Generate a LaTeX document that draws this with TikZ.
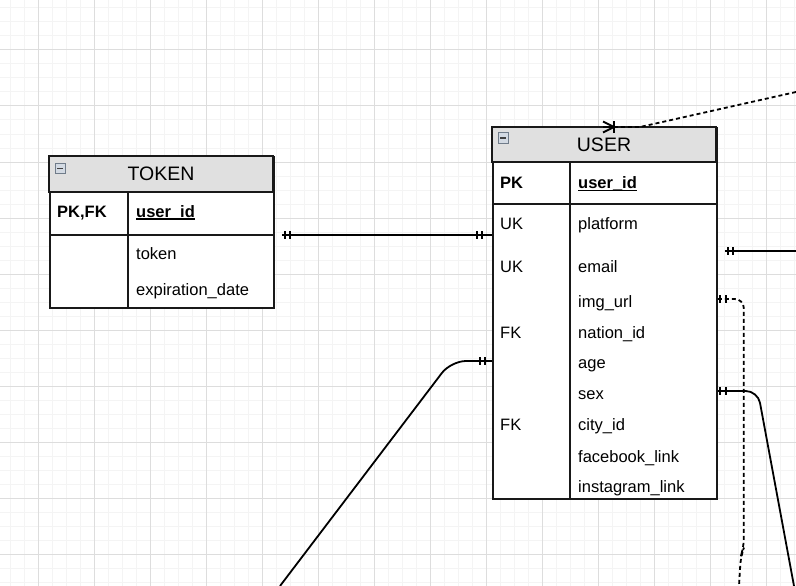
\documentclass[tikz,border=0pt]{standalone}
\usepackage{fontspec}
\setmainfont{Liberation Sans}
\definecolor{gridminor}{HTML}{F4F4F4}
\definecolor{gridmajor}{HTML}{DDDDDD}
\definecolor{headgray}{HTML}{E0E0E0}
\definecolor{iconfill}{HTML}{D3DAE3}
\definecolor{iconline}{HTML}{707C8A}
\begin{document}
\begin{tikzpicture}[x=1pt,y=-1pt,
    tablebox/.style={draw=black!90,line width=1.8pt,fill=white,inner sep=0pt,anchor=north west,minimum width=224pt},
    headbox/.style={fill=headgray,draw=black!90,line width=1.8pt},
    rowline/.style={draw=black!90,line width=1.8pt},
    title/.style={anchor=base,inner sep=0pt,font=\fontsize{19.5}{22}\selectfont},
    field/.style={anchor=base west,inner sep=0pt,font=\fontsize{16.5}{19}\selectfont},
    keyfield/.style={field,font=\fontsize{16.5}{19}\selectfont\bfseries},
    conn/.style={line width=1.8pt,black},
    dashconn/.style={conn,dash pattern=on 4pt off 3pt}]
    \useasboundingbox (0,0) rectangle (796,586);
    \fill[white] (0,0) rectangle (796,586);
    % grid
    \foreach \x in {10,24,...,796} \draw[gridminor,line width=1pt] (\x,0)--(\x,586);
    \foreach \y in {8,22,...,586} \draw[gridminor,line width=1pt] (0,\y)--(796,\y);
    \foreach \x in {38,94,...,796} \draw[gridmajor,line width=1pt] (\x,0)--(\x,586);
    \foreach \y in {50,106,...,586} \draw[gridmajor,line width=1pt] (0,\y)--(796,\y);
    % TOKEN table
    \node[tablebox,minimum height=151pt] (token) at (49,156) {};
    \filldraw[headbox] (token.north west) rectangle ++(224,36);
    \draw[rowline,line width=2.2pt] (49,235)--(273,235);
    \draw[rowline] (128,192)--(128,307);
    \node[title] (tokentitle) at (161,180) {TOKEN};
    \node[keyfield] (tokenpk) at (57,217) {PK,FK};
    \node[keyfield] (tokenid) at (136,217) {user\_id};
    \draw[line width=1.3pt] ([yshift=-2pt]tokenid.base west)--([yshift=-2pt]tokenid.base east);
    \node[field] (tokenval) at (136,259.5) {token};
    \node[field] (tokenexp) at (136,295.3) {expiration\_date};
    % USER table
    \node[tablebox,minimum height=371pt] (user) at (492,127) {};
    \filldraw[headbox] (user.north west) rectangle ++(224,35);
    \draw[rowline,line width=2.2pt] (492,204)--(716,204);
    \draw[rowline] (570,162)--(570,498);
    \node[title] (usertitle) at (604,151) {USER};
    \node[keyfield] (userpk) at (500,188.3) {PK};
    \node[keyfield] (userid) at (578,188.3) {user\_id};
    \draw[line width=1.3pt] ([yshift=-2pt]userid.base west)--([yshift=-2pt]userid.base east);
    \foreach \y/\k/\f [count=\i] in {229.6/UK/platform, 272/UK/email, 307.6/{}/img\_url,
        338.6/FK/nation\_id, 368.6/{}/age, 399.6/{}/sex, 430.3/FK/city\_id,
        462/{}/facebook\_link, 492.6/{}/instagram\_link}{
        \node[field] (userkey\i) at (500,\y) {\k};
        \node[field] (userfield\i) at (578,\y) {\f};
    }
    % collapse icons
    \foreach \x/\y in {498/132.5, 55/163.3}{
        \filldraw[fill=iconfill,draw=iconline,line width=1pt] (\x,\y) rectangle (\x+10.5,\y+10.5);
        \draw[black!75,line width=1.6pt] (\x+2.3,\y+5.25)--(\x+8.2,\y+5.25);
    }
    % free ends
    \coordinate (offtop) at (796,92);
    \coordinate (offright) at (796,251);
    \coordinate (offdash) at (739,586);
    \coordinate (offsex) at (794,586);
    \coordinate (offleft) at (280,586);
    % connectors
    \draw[conn] ([shift={(7pt,-79pt)}]token.north east)--([yshift=-108pt]user.north west);
    \draw[conn] ([shift={(7pt,-124pt)}]user.north east)--(offright);
    \draw[dashconn,rounded corners=9pt] ([yshift=-172pt]user.north east)--++(26,0)--++(0,249)--++(-3,8)--(offdash);
    \draw[conn,rounded corners=12pt] ([yshift=-264pt]user.north east)--++(40,0)--(offsex);
    \draw[conn,rounded corners=15pt] ([yshift=-234pt]user.north west)--++(-41,0)--(offleft);
    \draw[dashconn] (offtop)--(640,127)--([xshift=122pt]user.north west);
    \draw[conn] ([xshift=111pt]user.north west)--++(11,0);
    % crow's foot and bars
    \draw[conn] (603,121.5)--(614,127)--(603,132.5);
    \draw[conn] (614,121.5)--(614,132.5);
    \foreach \x/\y in {285/235, 290/235, 477/235, 482/235, 728/251, 733/251,
        720/299, 726/299, 720/391, 726/391, 480/361, 485/361}
        \draw[conn] (\x,\y-4)--(\x,\y+4);
\end{tikzpicture}
\end{document}
